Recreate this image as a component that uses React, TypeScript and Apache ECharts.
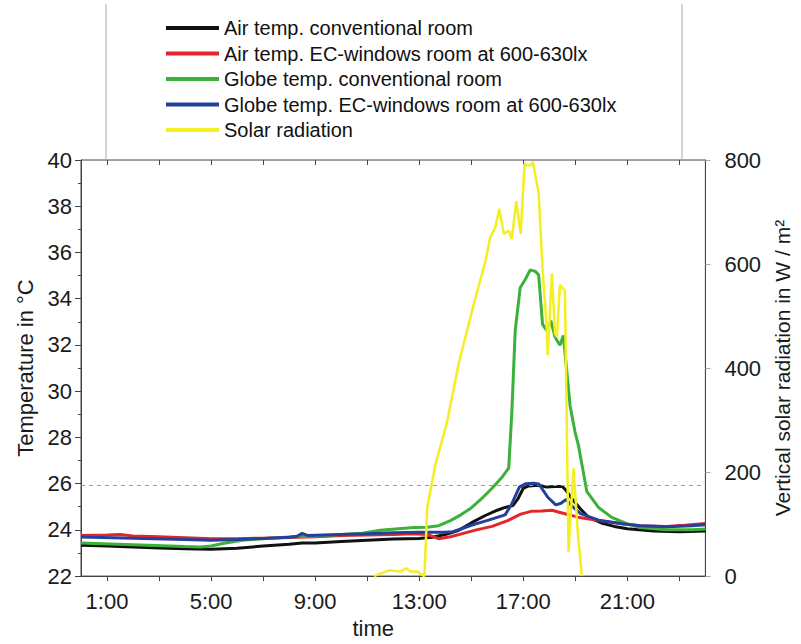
import React, { useEffect, useRef } from "react";
import * as echarts from "echarts";

// ---- tick labels ----
const timeTicks = ["1:00", "3:00", "5:00", "7:00", "9:00", "11:00", "13:00", "15:00", "17:00", "19:00", "21:00", "23:00"];

// ---- series names ----
const names = [
  "Air temp. conventional room",
  "Air temp. EC-windows room at 600-630lx",
  "Globe temp. conventional room",
  "Globe temp. EC-windows room at 600-630lx",
  "Solar radiation",
];
const colors = ["#111111", "#e3262b", "#3cb13a", "#25409b", "#f3ef22"];

// ---- Air temp. conventional room (hours, °C) ----
const airConvHours = [0, 1, 2, 3, 4, 5, 6, 7, 8, 8.5, 9, 10, 11, 12, 13, 13.5, 14, 14.5, 15, 15.5, 16, 16.3, 16.6, 16.8, 17.0, 17.2, 17.6, 17.9, 18.2, 18.5, 18.65, 18.9, 19.2, 19.5, 20, 20.5, 21, 22, 23, 24];
const airConvTemp = [23.33, 23.3, 23.26, 23.22, 23.18, 23.16, 23.2, 23.3, 23.38, 23.43, 23.43, 23.5, 23.55, 23.6, 23.63, 23.68, 23.8, 23.97, 24.3, 24.6, 24.85, 24.97, 25.05, 25.35, 25.8, 25.9, 25.93, 25.85, 25.88, 25.88, 25.7, 25.3, 24.9, 24.55, 24.3, 24.15, 24.05, 23.95, 23.92, 23.95];

// ---- Air temp. EC-windows room ----
const airEcHours = [0, 1, 1.5, 2, 3, 4, 5, 6, 7, 8, 9, 10, 11, 12, 12.8, 13.3, 13.75, 14.2, 14.7, 15.2, 15.8, 16.4, 16.9, 17.3, 17.7, 18.1, 18.6, 19.1, 19.9, 20.8, 21.5, 22.5, 23.2, 24];
const airEcTemp = [23.76, 23.78, 23.8, 23.74, 23.7, 23.66, 23.62, 23.62, 23.64, 23.67, 23.7, 23.76, 23.78, 23.8, 23.83, 23.8, 23.62, 23.7, 23.85, 24.0, 24.15, 24.4, 24.68, 24.8, 24.82, 24.85, 24.7, 24.55, 24.4, 24.26, 24.18, 24.15, 24.2, 24.28];

// ---- Globe temp. conventional room ----
const globeConvHours = [0, 2, 4, 4.6, 5, 5.5, 6.2, 7, 8, 9, 10, 10.8, 11.5, 12.2, 12.8, 13.3, 13.75, 14.2, 14.6, 15.0, 15.4, 15.8, 16.2, 16.44, 16.56, 16.69, 16.88, 17.07, 17.27, 17.46, 17.59, 17.74, 17.9, 18.06, 18.22, 18.41, 18.54, 18.8, 18.99, 19.12, 19.44, 19.89, 20.4, 21.0, 21.5, 22.5, 23.5, 24];
const globeConvTemp = [23.43, 23.36, 23.28, 23.26, 23.3, 23.42, 23.55, 23.62, 23.69, 23.73, 23.8, 23.85, 23.98, 24.05, 24.1, 24.11, 24.18, 24.4, 24.65, 24.95, 25.35, 25.8, 26.3, 26.67, 29.08, 32.62, 34.47, 34.82, 35.25, 35.18, 35.03, 32.9, 32.62, 33.05, 32.34, 31.99, 32.41, 29.36, 28.23, 27.66, 25.67, 24.97, 24.54, 24.26, 24.1, 24.0, 24.0, 24.04];

// ---- Globe temp. EC-windows room ----
const globeEcHours = [0, 2, 4, 5, 6, 7, 8, 8.3, 8.5, 8.7, 9, 10, 11, 12, 13, 14, 14.3, 15, 15.6, 16.3, 16.55, 16.85, 17.1, 17.4, 17.6, 17.95, 18.25, 18.45, 18.65, 18.85, 19.2, 19.9, 20.8, 21.5, 22.5, 23.5, 24];
const globeEcTemp = [23.69, 23.64, 23.58, 23.55, 23.58, 23.63, 23.68, 23.72, 23.85, 23.76, 23.77, 23.8, 23.83, 23.88, 23.9, 23.9, 23.92, 24.2, 24.4, 24.65, 25.1, 25.85, 26.0, 26.02, 25.98, 25.4, 25.08, 25.15, 25.32, 25.05, 24.7, 24.42, 24.26, 24.18, 24.14, 24.18, 24.22];

// ---- Solar radiation (hours, W/m²) ----
const solarHours = [11.26, 11.84, 12.3, 12.5, 12.67, 12.9, 13.2, 13.31, 13.62, 14.07, 14.52, 15.16, 15.54, 15.73, 15.92, 16.08, 16.25, 16.44, 16.56, 16.73, 16.9, 17.05, 17.14, 17.27, 17.37, 17.59, 17.74, 17.9, 17.94, 18.1, 18.22, 18.29, 18.41, 18.6, 18.74, 18.93, 19.1, 19.25];
const solarValues = [0, 11, 9, 15, 9, 9, 0, 132, 214, 296, 409, 535, 604, 652, 670, 706, 658, 664, 648, 721, 658, 793, 790, 790, 796, 737, 592, 478, 425, 582, 466, 460, 560, 548, 47, 207, 81, 0];

const comfortLimit = 25.95;

const zip = (xs: number[], ys: number[]) => xs.map((x, i) => [x, ys[i]]);

const FONT = "'Liberation Sans', Arial, sans-serif";

export default function App() {
  const ref = useRef<HTMLDivElement>(null);
  useEffect(() => {
    if (!ref.current) return;
    const chart = echarts.init(ref.current, undefined, { renderer: "svg" });
    const lineSeries = (idx: number, data: number[][], yAxisIndex: number, width: number, extra: any = {}) => ({
      type: "line",
      name: names[idx],
      data,
      xAxisIndex: 0,
      yAxisIndex,
      symbol: "none",
      showSymbol: false,
      lineStyle: { width, color: colors[idx] },
      itemStyle: { color: colors[idx] },
      z: 2 + idx,
      ...extra,
    });
    const option: any = {
      animation: false,
      color: colors,
      textStyle: { fontFamily: FONT },
      grid: {
        left: 81,
        right: 93,
        top: 160,
        bottom: 61,
        show: true,
        borderColor: "#444",
        borderWidth: 1,
        backgroundColor: "transparent",
      },
      legend: {
        orient: "vertical",
        left: 161,
        top: 13,
        icon: "rect",
        itemWidth: 53,
        itemHeight: 4,
        itemGap: 5.5,
        data: names,
        textStyle: { fontSize: 20, color: "#111", fontFamily: FONT },
      },
      graphic: [
        { type: "line", shape: { x1: 106, y1: 4, x2: 106, y2: 160 }, style: { stroke: "#aaa", lineWidth: 1 } },
        { type: "line", shape: { x1: 682, y1: 4, x2: 682, y2: 160 }, style: { stroke: "#aaa", lineWidth: 1 } },
      ],
      xAxis: [
        { type: "value", min: 0, max: 24, show: false },
        {
          type: "category",
          position: "bottom",
          data: timeTicks,
          boundaryGap: true,
          axisLine: { show: true, lineStyle: { color: "#444" } },
          axisTick: { show: true, alignWithLabel: true, interval: 0, length: 5, lineStyle: { color: "#444" } },
          axisLabel: { interval: 1, fontSize: 22, margin: 14, color: "#1a1a1a", fontFamily: FONT },
          splitLine: { show: false },
          name: "time",
          nameLocation: "middle",
          nameGap: 36,
          nameTextStyle: { fontSize: 22, color: "#1a1a1a", fontFamily: FONT, padding: [0, 40, 0, 0] },
        },
        {
          type: "category",
          position: "top",
          data: timeTicks,
          boundaryGap: true,
          axisLine: { show: false },
          axisTick: { show: true, inside: true, alignWithLabel: true, interval: 0, length: 5, lineStyle: { color: "#444" } },
          axisLabel: { show: false },
          splitLine: { show: false },
        },
      ],
      yAxis: [
        {
          type: "value",
          position: "left",
          min: 22,
          max: 40,
          interval: 2,
          axisLine: { show: true, lineStyle: { color: "#444" } },
          axisTick: { show: true, length: 6, lineStyle: { color: "#444" } },
          minorTick: { show: true, splitNumber: 2, length: 3, lineStyle: { color: "#444" } },
          splitLine: { show: false },
          axisLabel: { fontSize: 22, margin: 9, color: "#1a1a1a", fontFamily: FONT },
          name: "Temperature in °C",
          nameLocation: "middle",
          nameGap: 43,
          nameTextStyle: { fontSize: 22, color: "#1a1a1a", fontFamily: FONT },
        },
        {
          type: "value",
          position: "right",
          min: 0,
          max: 800,
          interval: 200,
          axisLine: { show: true, lineStyle: { color: "#444" } },
          axisTick: { show: true, length: 5, lineStyle: { color: "#aaa" } },
          splitLine: { show: false },
          axisLabel: { fontSize: 22, margin: 19, color: "#1a1a1a", fontFamily: FONT },
          name: "Vertical solar radiation in W / m²",
          nameLocation: "middle",
          nameGap: 65,
          nameTextStyle: { fontSize: 21, color: "#1a1a1a", fontFamily: FONT },
        },
      ],
      series: [
        lineSeries(0, zip(airConvHours, airConvTemp), 0, 3, {
          markLine: {
            silent: true,
            symbol: "none",
            label: { show: false },
            lineStyle: { color: "#999", type: [4, 4], width: 1.2 },
            data: [{ yAxis: comfortLimit }],
          },
        }),
        lineSeries(1, zip(airEcHours, airEcTemp), 0, 3),
        lineSeries(2, zip(globeConvHours, globeConvTemp), 0, 3),
        lineSeries(3, zip(globeEcHours, globeEcTemp), 0, 3),
        lineSeries(4, zip(solarHours, solarValues), 1, 2.5),
      ],
    };
    chart.setOption(option);
    return () => chart.dispose();
  }, []);
  return (
    <div
      ref={ref}
      style={{ position: "fixed", left: 0, top: 0, width: 801, height: 644, background: "#fff" }}
    />
  );
}
